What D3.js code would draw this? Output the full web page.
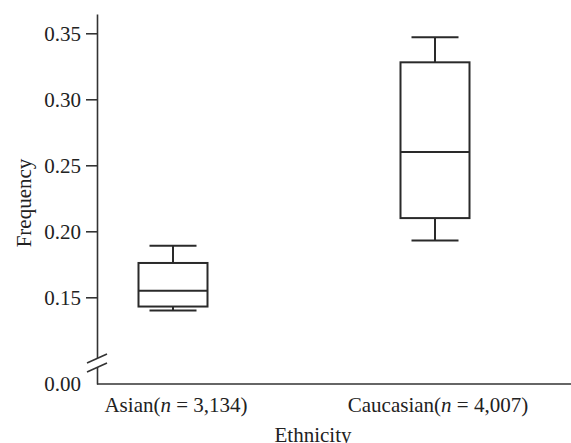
<!DOCTYPE html>
<html>
<head>
<meta charset="utf-8">
<script src="https://cdn.jsdelivr.net/npm/d3@7"></script>
<style>
  body { margin: 0; background: #fff; }
  text { font-family: "Liberation Serif", "DejaVu Serif", serif; fill: #222; }
</style>
</head>
<body>
<div id="container"></div>
<script>
let w = 571;
let h = 443;

// data
let groups = ["Asian", "Caucasian"];
let groupN = ["3,134", "4,007"];
let whiskerLow = [0.140, 0.193];
let boxLow = [0.143, 0.210];
let medians = [0.155, 0.260];
let boxHigh = [0.176, 0.328];
let whiskerHigh = [0.189, 0.347];
let yTicks = [0.00, 0.15, 0.20, 0.25, 0.30, 0.35];

let fontSize = 21;

let viz = d3.select("#container")
  .append("svg")
    .attr("width", w)
    .attr("height", h);

let axisX = 97;
let axisBottomY = 384;

// broken y scale: 0 at the bottom, then jump to 0.10
let yScale = d3.scaleLinear()
  .domain([0, 0.10, 0.3646])
  .range([axisBottomY, 363.3, 14]);

let xScale = d3.scalePoint().domain(groups).range([173, 435]);

// y axis
let yAxis = d3.axisLeft(yScale)
  .tickValues(yTicks)
  .tickSize(11)
  .tickSizeOuter(0)
  .tickPadding(5)
  .tickFormat(d3.format(".2f"));

let yAxisGroup = viz.append("g")
  .attr("transform", "translate(" + axisX + ",0)")
  .call(yAxis);
yAxisGroup.select(".domain").attr("stroke", "#333").attr("stroke-width", 1.6);
yAxisGroup.selectAll(".tick line").attr("stroke", "#333").attr("stroke-width", 1.6);
yAxisGroup.selectAll(".tick").filter(d => d === 0).select("line").remove();
yAxisGroup.selectAll(".tick text")
  .attr("font-size", fontSize)
  .attr("font-family", "Liberation Serif, serif")
  .attr("fill", "#222");

// break marks on the y axis: white gap, then two slashes
let breakGroup = viz.append("g");
breakGroup.append("rect")
  .attr("x", axisX - 3).attr("y", 358)
  .attr("width", 6).attr("height", 9)
  .attr("fill", "#fff");
[0, 9].forEach(off => {
  breakGroup.append("line")
    .attr("x1", axisX - 10).attr("y1", 363 + off)
    .attr("x2", axisX + 10).attr("y2", 354 + off)
    .attr("stroke", "#333").attr("stroke-width", 1.6);
});

// x axis line
viz.append("line")
  .attr("x1", axisX).attr("y1", axisBottomY)
  .attr("x2", w).attr("y2", axisBottomY)
  .attr("stroke", "#333").attr("stroke-width", 1.6);

// x labels
let labels = viz.append("g").selectAll("text")
  .data(groups)
  .enter()
  .append("text")
    .attr("x", d => xScale(d) + 3)
    .attr("y", 412)
    .attr("text-anchor", "middle")
    .attr("font-size", fontSize);
labels.append("tspan").text(d => d + "(");
labels.append("tspan").attr("font-style", "italic").text("n");
labels.append("tspan").text((d, i) => " = " + groupN[i] + ")");

viz.append("text")
  .attr("x", 313)
  .attr("y", 442)
  .attr("text-anchor", "middle")
  .attr("font-size", fontSize)
  .text("Ethnicity");

viz.append("text")
  .attr("transform", "translate(31,203) rotate(-90)")
  .attr("text-anchor", "middle")
  .attr("font-size", fontSize)
  .text("Frequency");

// boxes
let boxW = 69;
let capW = 47;
let graphGroup = viz.append("g")
  .attr("stroke", "#2a2a2a")
  .attr("stroke-width", 2)
  .attr("fill", "none");

let boxes = graphGroup.selectAll(".box")
  .data(groups)
  .enter()
  .append("g")
    .attr("class", "box");

boxes.append("line")
  .attr("x1", d => xScale(d)).attr("x2", d => xScale(d))
  .attr("y1", (d, i) => yScale(whiskerHigh[i]))
  .attr("y2", (d, i) => yScale(boxHigh[i]));
boxes.append("line")
  .attr("x1", d => xScale(d)).attr("x2", d => xScale(d))
  .attr("y1", (d, i) => yScale(boxLow[i]))
  .attr("y2", (d, i) => yScale(whiskerLow[i]));
boxes.append("line")
  .attr("x1", d => xScale(d) - capW / 2).attr("x2", d => xScale(d) + capW / 2)
  .attr("y1", (d, i) => yScale(whiskerHigh[i]))
  .attr("y2", (d, i) => yScale(whiskerHigh[i]));
boxes.append("line")
  .attr("x1", d => xScale(d) - capW / 2).attr("x2", d => xScale(d) + capW / 2)
  .attr("y1", (d, i) => yScale(whiskerLow[i]))
  .attr("y2", (d, i) => yScale(whiskerLow[i]));
boxes.append("rect")
  .attr("x", d => xScale(d) - boxW / 2)
  .attr("width", boxW)
  .attr("y", (d, i) => yScale(boxHigh[i]))
  .attr("height", (d, i) => yScale(boxLow[i]) - yScale(boxHigh[i]));
boxes.append("line")
  .attr("x1", d => xScale(d) - boxW / 2).attr("x2", d => xScale(d) + boxW / 2)
  .attr("y1", (d, i) => yScale(medians[i]))
  .attr("y2", (d, i) => yScale(medians[i]));
</script>
</body>
</html>
